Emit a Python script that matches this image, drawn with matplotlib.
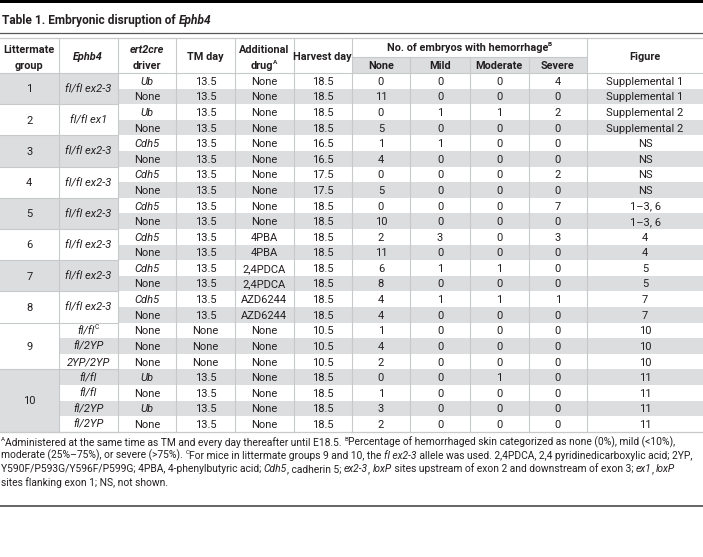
import matplotlib
matplotlib.use("Agg")
import matplotlib.pyplot as plt
from matplotlib.font_manager import FontProperties
from matplotlib.patches import Rectangle

# ─── Data ─────────────────────────────────────────────────
group = [1, 1, 2, 2, 3, 3, 4, 4, 5, 5, 6, 6, 7, 7, 8, 8, 9, 9, 9, 10, 10, 10, 10]
group_ephb4 = {1: "fl/fl ex2-3", 2: "fl/fl ex1", 3: "fl/fl ex2-3", 4: "fl/fl ex2-3",
               5: "fl/fl ex2-3", 6: "fl/fl ex2-3", 7: "fl/fl ex2-3", 8: "fl/fl ex2-3"}
row_ephb4 = ["fl/fl", "fl/2YP", "2YP/2YP", "fl/fl", "fl/fl", "fl/2YP", "fl/2YP"]  # groups 9, 10
driver = ["Ub", "None", "Ub", "None", "Cdh5", "None", "Cdh5", "None", "Cdh5", "None",
          "Cdh5", "None", "Cdh5", "None", "Cdh5", "None", "None", "None", "None",
          "Ub", "None", "Ub", "None"]
tm_day = ["13.5"] * 16 + ["None"] * 3 + ["13.5"] * 4
drug = ["None"] * 10 + ["4PBA", "4PBA", "2,4PDCA", "2,4PDCA", "AZD6244", "AZD6244"] + ["None"] * 7
harvest = ["18.5"] * 4 + ["16.5"] * 2 + ["17.5"] * 2 + ["18.5"] * 8 + ["10.5"] * 3 + ["18.5"] * 4
n_none = [0, 11, 0, 5, 1, 4, 0, 5, 0, 10, 2, 11, 6, 8, 4, 4, 1, 4, 2, 0, 1, 3, 2]
n_mild = [0, 0, 1, 0, 1, 0, 0, 0, 0, 0, 3, 0, 1, 0, 1, 0, 0, 0, 0, 0, 0, 0, 0]
n_moderate = [0, 0, 1, 0, 0, 0, 0, 0, 0, 0, 0, 0, 1, 0, 1, 0, 0, 0, 0, 1, 0, 0, 0]
n_severe = [4, 0, 2, 0, 0, 0, 2, 0, 7, 0, 3, 0, 0, 0, 1, 0, 0, 0, 0, 0, 0, 0, 0]
figure_ref = ["Supplemental 1"] * 2 + ["Supplemental 2"] * 2 + ["NS"] * 4 + ["1–3, 6"] * 2 + \
             ["4", "4", "5", "5", "7", "7", "10", "10", "10", "11", "11", "11", "11"]
group_shaded = {1: True, 2: False, 3: True, 4: False, 5: True, 6: False, 7: True,
                8: False, 9: False, 10: True}

# ─── Style ────────────────────────────────────────────────
W, H = 703, 557
FONT = "Roboto"
TEXT = "#231f20"
SHADE = "#dcdddf"
GRID = "#c8c9cb"
RULE = "#58595b"
BODY = 8.0
HEAD = 7.8
NOTE = 7.4

COL_EDGES = [0, 58.5, 118, 176, 235, 293.5, 352, 410, 470, 528.5, 587, 703]
HEAD_TOP, HEAD_MID, ROW_TOP, ROW_H = 38, 56.5, 73, 15.6

fig = plt.figure(figsize=(W / 100, H / 100), dpi=100)
fig.patch.set_facecolor("white")
ax = fig.add_axes([0, 0, 1, 1])
ax.set_xlim(0, W)
ax.set_ylim(H, 0)
ax.axis("off")
renderer = fig.canvas.get_renderer()

STYLES = {
    "n": ("normal", "normal", 1.0, 0.0),
    "i": ("normal", "italic", 1.0, 0.0),
    "b": ("bold", "normal", 1.0, 0.0),
    "bi": ("bold", "italic", 1.0, 0.0),
    "s": ("normal", "normal", 0.6, 0.45),
    "sb": ("bold", "normal", 0.6, 0.45),
}


def _adv(s, prop):
    w1 = renderer.get_text_width_height_descent("|" + s + "|", prop, ismath=False)[0]
    w0 = renderer.get_text_width_height_descent("||", prop, ismath=False)[0]
    return w1 - w0


def rich(x, y, segs, size, ha="left"):
    """Draw a line of mixed-style segments; y is the baseline."""
    items = []
    total = 0
    for txt, st in segs:
        weight, slant, k, rise = STYLES[st]
        prop = FontProperties(family=FONT, weight=weight, style=slant, size=size * k)
        w = _adv(txt, prop)
        items.append((txt, prop, w, rise * size * 100 / 72))
        total += w
    if ha == "center":
        x -= total / 2
    for txt, prop, w, rise in items:
        ax.text(x, y - rise, txt, fontproperties=prop, color=TEXT,
                ha="left", va="baseline")
        x += w


def center(c):
    return (COL_EDGES[c] + COL_EDGES[c + 1]) / 2


def row_y(i):
    return ROW_TOP + i * ROW_H


# ─── Rules & title ────────────────────────────────────────
ax.add_patch(Rectangle((0, 0), W, 3, color="black", lw=0))
rich(2, 24, [("Table 1. Embryonic disruption of ", "b"), ("Ephb4", "bi")], 8.6)
ax.plot([0, W], [33.3, 33.3], color=RULE, lw=0.9)

# ─── Backgrounds ──────────────────────────────────────────
n_rows = len(group)
ax.add_patch(Rectangle((COL_EDGES[6], HEAD_MID), COL_EDGES[10] - COL_EDGES[6],
                       ROW_TOP - HEAD_MID, color=SHADE, lw=0))
for i in range(n_rows):
    if i % 2 == 1:
        x0 = COL_EDGES[2] if group[i] <= 8 else COL_EDGES[1]
        ax.add_patch(Rectangle((x0, row_y(i)), W - x0, ROW_H, color=SHADE, lw=0))

groups = sorted(set(group))
for g in groups:
    idx = [i for i, v in enumerate(group) if v == g]
    top, bot = row_y(idx[0]), row_y(idx[-1] + 1)
    right = COL_EDGES[2] if g <= 8 else COL_EDGES[1]
    if group_shaded[g]:
        ax.add_patch(Rectangle((0, top), right, bot - top, color=SHADE, lw=0))
    ax.plot([0, COL_EDGES[2]], [bot, bot], color=GRID, lw=0.8)
    mid = (top + bot) / 2 + 3.9
    rich(center(0), mid, [(str(g), "n")], BODY, ha="center")
    if g <= 8:
        rich(center(1), mid, [(group_ephb4[g], "i")], BODY, ha="center")

# ─── Grid lines ───────────────────────────────────────────
table_bot = row_y(n_rows)
for k, x in enumerate(COL_EDGES[1:-1], start=1):
    y0 = HEAD_MID if k in (7, 8, 9) else HEAD_TOP
    ax.plot([x, x], [y0, table_bot], color=GRID, lw=0.8)
ax.plot([0, W], [HEAD_TOP, HEAD_TOP], color=GRID, lw=0.9)
ax.plot([0, W], [ROW_TOP, ROW_TOP], color=GRID, lw=0.8)
ax.plot([COL_EDGES[6], COL_EDGES[10]], [HEAD_MID, HEAD_MID], color=GRID, lw=0.8)
ax.plot([0, W], [table_bot, table_bot], color=GRID, lw=0.9)

# ─── Header ───────────────────────────────────────────────
b1, b2, bc = 53.0, 68.8, 59.8
rich(center(0), b1, [("Littermate", "b")], HEAD, "center")
rich(center(0), b2, [("group", "b")], HEAD, "center")
rich(center(1), bc, [("Ephb4", "bi")], HEAD, "center")
rich(center(2), b1, [("ert2cre", "bi")], HEAD, "center")
rich(center(2), b2, [("driver", "b")], HEAD, "center")
rich(center(3), bc, [("TM day", "b")], HEAD, "center")
rich(center(4), b1, [("Additional", "b")], HEAD, "center")
rich(center(4), b2, [("drug", "b"), ("A", "sb")], HEAD, "center")
rich(center(5), bc, [("Harvest day", "b")], HEAD, "center")
rich((COL_EDGES[6] + COL_EDGES[10]) / 2, 51.0,
     [("No. of embryos with hemorrhage", "b"), ("B", "sb")], HEAD, "center")
for c, lab in zip(range(6, 10), ["None", "Mild", "Moderate", "Severe"]):
    rich(center(c), b2, [(lab, "b")], HEAD, "center")
rich(center(10), bc, [("Figure", "b")], HEAD, "center")

# ─── Body ─────────────────────────────────────────────────
for i in range(n_rows):
    yb = row_y(i) + ROW_H / 2 + 3.9
    if group[i] > 8:
        lab = row_ephb4[i - 16]
        segs = [(lab, "i")] + ([("C", "s")] if i == 16 else [])
        rich(center(1), yb, segs, BODY, "center")
    drv_style = "n" if driver[i] == "None" else "i"
    rich(center(2), yb, [(driver[i], drv_style)], BODY, "center")
    cells = [tm_day[i], drug[i], harvest[i], str(n_none[i]), str(n_mild[i]),
             str(n_moderate[i]), str(n_severe[i]), figure_ref[i]]
    for c, val in zip(range(3, 11), cells):
        rich(center(c), yb, [(val, "n")], BODY, "center")

# ─── Footnotes ────────────────────────────────────────────
notes = [
    [("A", "s"), ("Administered at the same time as TM and every day thereafter until E18.5. ", "n"),
     ("B", "s"), ("Percentage of hemorrhaged skin categorized as none (0%), mild (<10%),", "n")],
    [("moderate (25%–75%), or severe (>75%). ", "n"), ("C", "s"),
     ("For mice in littermate groups 9 and 10, the ", "n"), ("fl ex2-3", "i"),
     (" allele was used. 2,4PDCA, 2,4 pyridinedicarboxylic acid; 2YP,", "n")],
    [("Y590F/P593G/Y596F/P599G; 4PBA, 4-phenylbutyric acid; ", "n"), ("Cdh5", "i"),
     (", cadherin 5; ", "n"), ("ex2-3", "i"), (", ", "n"), ("loxP", "i"),
     (" sites upstream of exon 2 and downstream of exon 3; ", "n"), ("ex1", "i"),
     (", ", "n"), ("loxP", "i")],
    [("sites flanking exon 1; NS, not shown.", "n")],
]
for k, segs in enumerate(notes):
    rich(1, 445.5 + k * 13.4, segs, NOTE)

ax.plot([0, W], [505.5, 505.5], color=RULE, lw=1.3)

fig.savefig("out.png", dpi=100, facecolor="white")
